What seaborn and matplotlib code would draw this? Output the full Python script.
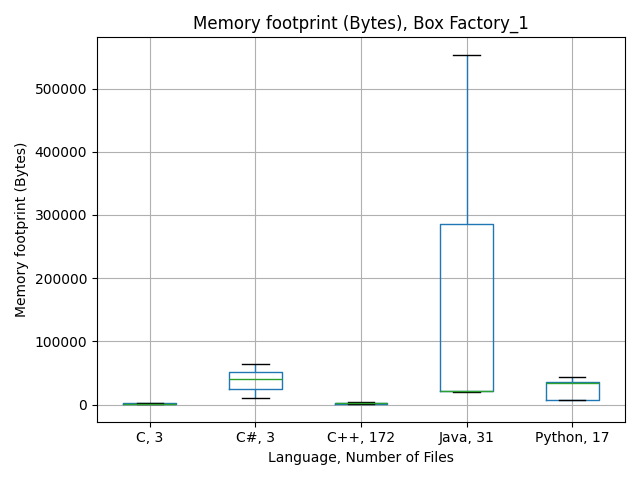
import matplotlib
matplotlib.use('Agg')
import matplotlib.pyplot as plt
import seaborn as sns
import pandas as pd

# ─── Data ────────────────────────────────────────────────────────────────────
LABELS = ['C, 3', 'C#, 3', 'C++, 172', 'Java, 31', 'Python, 17']
c_vals      = [500, 1000, 1500, 2000, 2500]
csharp_vals = [10000, 40000, 64000]
cpp_vals    = [1000, 1500, 2500, 3000, 3500]
java_vals   = [20000, 21000, 22000, 286000, 553000]
python_vals = [7000, 8000, 35000, 36000, 44000]

series = [c_vals, csharp_vals, cpp_vals, java_vals, python_vals]
df = pd.DataFrame([(lab, v) for lab, vals in zip(LABELS, series) for v in vals],
                  columns=['lang', 'mem'])

fig, ax = plt.subplots(figsize=(6.4, 4.8), dpi=100)
blue = '#1f77b4'
sns.boxplot(data=df, x='lang', y='mem', order=LABELS, ax=ax, fill=False,
            width=0.5, linewidth=1, color=blue,
            whis=1.5, showfliers=False,
            medianprops={'color': '#2ca02c'},
            capprops={'color': 'black'},
            whiskerprops={'color': blue})
ax.grid(True, color='#b0b0b0', linewidth=0.8)
ax.set_axisbelow(True)
ax.set_title('Memory footprint (Bytes), Box Factory_1')
ax.set_xlabel('Language, Number of Files')
ax.set_ylabel('Memory footprint (Bytes)')
ax.set_ylim(-27000, 581000)
plt.tight_layout()
plt.savefig('out.png', dpi=100)
